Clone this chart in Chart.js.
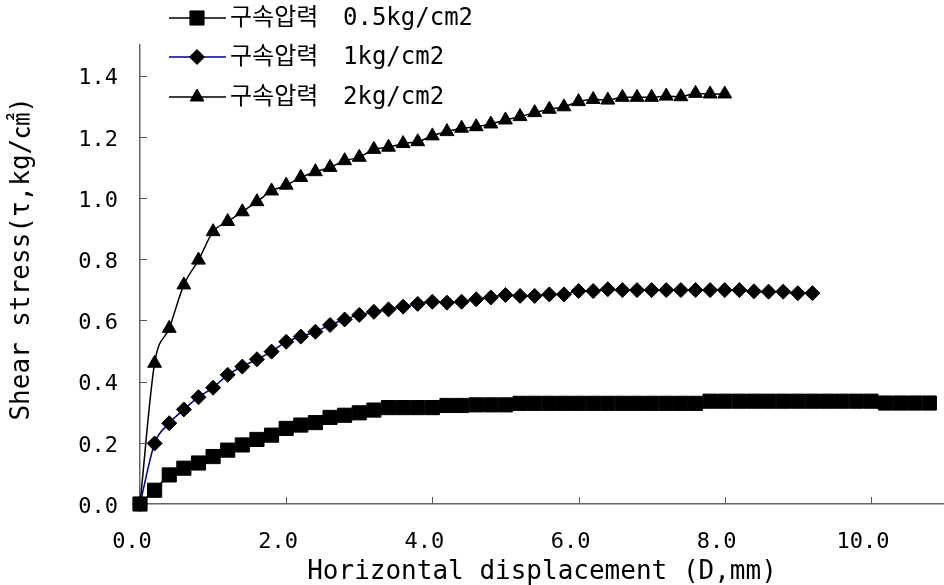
<!DOCTYPE html>
<html>
<head>
<meta charset="utf-8">
<script src="https://cdn.jsdelivr.net/npm/chart.js@4.4.1/dist/chart.umd.min.js"></script>
<style>
  html, body { margin: 0; padding: 0; background: #fff; }
  #wrap { width: 944px; height: 585px; position: relative; }
</style>
</head>
<body>
<div id="wrap"><canvas id="c" width="944" height="585"></canvas></div>
<script>
// ---- data ----
const seriesLabels = ['구속압력 0.5kg/cm2', '구속압력 1kg/cm2', '구속압력 2kg/cm2'];

const disp05 = [0,0.2,0.4,0.6,0.8,1.0,1.2,1.4,1.6,1.8,2.0,2.2,2.4,2.6,2.8,3.0,3.2,3.4,3.6,3.8,4.0,4.2,4.4,4.6,4.8,5.0,
  5.2,5.4,5.6,5.8,6.0,6.2,6.4,6.6,6.8,7.0,7.2,7.4,7.6,
  7.8,8.0,8.2,8.4,8.6,8.8,9.0,9.2,9.4,9.6,9.8,10.0,
  10.2,10.4,10.6,10.8];
const tau05 = [0,0.045,0.095,0.117,0.134,0.155,0.176,0.193,0.211,0.225,0.247,0.258,0.266,0.283,0.290,0.298,0.307,0.315,0.315,0.315,0.315,0.322,0.322,0.324,0.324,0.324,
  0.329,0.329,0.329,0.329,0.329,0.329,0.329,0.329,0.329,0.329,0.329,0.329,0.329,
  0.336,0.336,0.336,0.336,0.336,0.336,0.336,0.336,0.336,0.336,0.336,0.336,
  0.330,0.330,0.330,0.330];

const disp1 = [0,0.2,0.4,0.6,0.8,1.0,1.2,1.4,1.6,1.8,2.0,2.2,2.4,2.6,2.8,3.0,3.2,3.4,3.6,3.8,4.0,4.2,4.4,4.6,4.8,5.0,
  5.2,5.4,5.6,5.8,6.0,6.2,6.4,6.6,6.8,7.0,7.2,7.4,7.6,7.8,8.0,8.2,8.4,8.6,8.8,9.0,9.2];
const tau1 = [0,0.198,0.264,0.309,0.349,0.380,0.422,0.449,0.473,0.498,0.530,0.547,0.563,0.585,0.603,0.618,0.628,0.636,0.645,0.654,0.661,0.658,0.661,0.669,0.675,0.683,
  0.680,0.680,0.685,0.685,0.696,0.696,0.702,0.699,0.699,0.699,0.699,0.699,0.699,0.699,0.699,0.699,0.695,0.694,0.694,0.689,0.689];

const disp2 = [0,0.2,0.4,0.6,0.8,1.0,1.2,1.4,1.6,1.8,2.0,2.2,2.4,2.6,2.8,3.0,3.2,3.4,3.6,3.8,4.0,
  4.2,4.4,4.6,4.8,5.0,5.2,5.4,5.6,5.8,6.0,6.2,6.4,6.6,6.8,7.0,7.2,7.4,7.6,7.8,8.0];
const tau2 = [0,0.460,0.574,0.716,0.797,0.890,0.923,0.955,0.988,1.023,1.042,1.067,1.086,1.100,1.122,1.133,1.159,1.166,1.178,1.184,1.203,
  1.217,1.228,1.233,1.242,1.255,1.266,1.279,1.290,1.298,1.315,1.322,1.320,1.329,1.329,1.329,1.333,1.331,1.342,1.340,1.340];

const xTitle = 'Horizontal displacement (D,mm)';
const yTitle = '  Shear stress(τ,kg/㎠)';

// ---- helpers ----
const toPts = (xs, ys) => xs.map((x, i) => ({ x: x, y: ys[i] }));
const FONT = "'DejaVu Sans Mono', 'Noto Sans CJK KR', monospace";

function drawMarker(ctx, style, r, x, y) {
  ctx.beginPath();
  if (style === 'rect') {
    const s = Math.SQRT1_2 * r;
    ctx.rect(x - s, y - s, 2 * s, 2 * s);
  } else if (style === 'rectRot') {
    ctx.moveTo(x, y - r); ctx.lineTo(x + r, y); ctx.lineTo(x, y + r); ctx.lineTo(x - r, y); ctx.closePath();
  } else if (style === 'triangle') {
    ctx.moveTo(x, y - r);
    ctx.lineTo(x + Math.sin(2 * Math.PI / 3) * r, y - Math.cos(2 * Math.PI / 3) * r);
    ctx.lineTo(x + Math.sin(4 * Math.PI / 3) * r, y - Math.cos(4 * Math.PI / 3) * r);
    ctx.closePath();
  }
  ctx.fill();
  ctx.stroke();
}

const overlayLegend = {
  id: 'overlayLegend',
  afterDraw(chart) {
    const ctx = chart.ctx;
    const rowY = [18, 57, 97];
    ctx.save();
    chart.data.datasets.forEach((ds, i) => {
      const y = rowY[i];
      ctx.strokeStyle = ds.borderColor;
      ctx.lineWidth = ds.borderWidth;
      ctx.beginPath(); ctx.moveTo(169, y); ctx.lineTo(226, y); ctx.stroke();
      ctx.fillStyle = ds.pointBackgroundColor;
      ctx.strokeStyle = ds.pointBorderColor;
      ctx.lineWidth = 1;
      drawMarker(ctx, ds.pointStyle, ds.pointRadius, 197, y);
      ctx.fillStyle = '#000';
      ctx.font = '24px ' + FONT;
      ctx.textBaseline = 'middle';
      ctx.textAlign = 'left';
      const sp = ds.label.indexOf(' ');
      ctx.fillText(ds.label.slice(0, sp), 230, y + 1);
      ctx.fillText(ds.label.slice(sp + 1), 343, y + 1);
    });
    ctx.restore();
  }
};

const innerTicks = {
  id: 'innerTicks',
  afterDraw(chart) {
    const ctx = chart.ctx;
    const xs = chart.scales.x, ys = chart.scales.y;
    const a = chart.chartArea;
    ctx.save();
    ctx.strokeStyle = '#555';
    ctx.lineWidth = 1;
    ctx.beginPath();
    xs.ticks.forEach(t => {
      const px = Math.round(xs.getPixelForValue(t.value)) + 0.5;
      if (t.value === 0) return;
      ctx.moveTo(px, a.bottom); ctx.lineTo(px, a.bottom - 7);
    });
    ys.ticks.forEach(t => {
      const py = Math.round(ys.getPixelForValue(t.value)) + 0.5;
      if (t.value === 0) return;
      ctx.moveTo(a.left, py); ctx.lineTo(a.left + 7, py);
    });
    ctx.stroke();
    ctx.restore();
  }
};

const markerCommon = { pointBackgroundColor: '#000', pointBorderColor: '#000', pointBorderWidth: 1, pointHoverRadius: 0 };

new Chart(document.getElementById('c'), {
  type: 'scatter',
  data: {
    datasets: [
      Object.assign({ label: seriesLabels[0], data: toPts(disp05, tau05), showLine: true, borderColor: '#000', borderWidth: 1.5,
        pointStyle: 'rect', pointRadius: 10, cubicInterpolationMode: 'monotone', clip: false }, markerCommon),
      Object.assign({ label: seriesLabels[1], data: toPts(disp1, tau1), showLine: true, borderColor: '#000080', borderWidth: 1.5,
        pointStyle: 'rectRot', pointRadius: 7.5, cubicInterpolationMode: 'monotone', clip: false }, markerCommon),
      Object.assign({ label: seriesLabels[2], data: toPts(disp2, tau2), showLine: true, borderColor: '#000', borderWidth: 1.5,
        pointStyle: 'triangle', pointRadius: 8, cubicInterpolationMode: 'monotone', clip: false }, markerCommon)
    ]
  },
  options: {
    responsive: false,
    animation: false,
    devicePixelRatio: 1,
    layout: { autoPadding: false, padding: { top: 45, right: 0, bottom: 0, left: 0 } },
    plugins: { legend: { display: false }, tooltip: { enabled: false } },
    scales: {
      x: {
        type: 'linear', min: 0, max: 11,
        grid: { display: false, drawTicks: false },
        border: { display: true, color: '#666', width: 1.5 },
        ticks: { stepSize: 2, includeBounds: false, color: '#000', font: { family: FONT, size: 22 },
          padding: 25, labelOffset: -8, maxRotation: 0, autoSkip: false,
          callback: v => Number(v).toFixed(1) },
        title: { display: true, text: xTitle, color: '#000', font: { family: FONT, size: 26, lineHeight: 1 }, padding: { top: 0, bottom: 0 } },
        afterFit: s => { s.height = 81; s.paddingLeft = 0; s.paddingRight = 0; }
      },
      y: {
        type: 'linear', min: 0, max: 1.5,
        grid: { display: false, drawTicks: false },
        border: { display: true, color: '#666', width: 1.5 },
        ticks: { stepSize: 0.2, includeBounds: false, color: '#000', font: { family: FONT, size: 22 },
          padding: 22, labelOffset: 3, autoSkip: false,
          callback: v => Number(v).toFixed(1) },
        title: { display: true, text: yTitle, color: '#000', font: { family: FONT, size: 26, lineHeight: 1 }, padding: { top: 9, bottom: 0 } },
        afterFit: s => { s.width = 140; s.paddingTop = 0; s.paddingBottom = 0; }
      }
    }
  },
  plugins: [overlayLegend, innerTicks]
});
</script>
</body>
</html>
